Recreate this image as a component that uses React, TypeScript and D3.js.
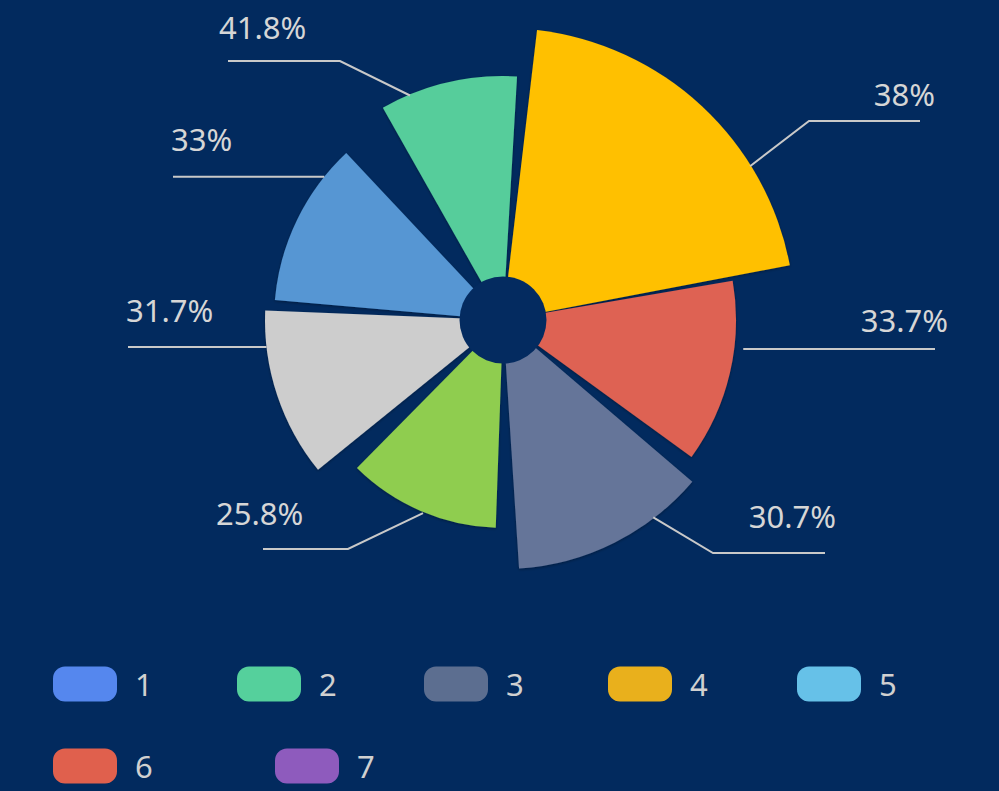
import React from "react";
import * as d3 from "d3";

// ---- data ----
const sliceNames = ["4", "6", "3", "lime", "gray", "blue", "2"];
const sliceValues = [38, 33.7, 30.7, 25.8, 31.7, 33, 41.8];
const sliceStartDeg = [6.7, 80.3, 130.5, 182, 231, 275, 330.5];
const sliceEndDeg = [79.2, 126, 176.3, 224.6, 272.3, 316.8, 363.3];
const sliceRadius = [292, 233, 249, 208, 238, 229, 244];
const sliceColors = ["#ffc000", "#de6252", "#657599", "#8fcd50", "#cdcdcd", "#5696d3", "#56cd9b"];

const legendNames = ["1", "2", "3", "4", "5", "6", "7"];
const legendColors = ["#5587ee", "#55d09c", "#5c6e90", "#e9b01c", "#66c1e8", "#e0604d", "#8e5bbd"];

// ---- layout (positions kept apart from data) ----
const W = 999;
const H = 791;
const CX = 503;
const CY = 320;
const HOLE = 43.5;
const BG = "#022a5e";

type LabelLayout = {
  angle: number;
  rOff: number;
  elbow: [number, number] | null;
  endX: number;
  textX: number;
  textDy: number;
  anchor: "start" | "end";
};
const labelLayout: LabelLayout[] = [
  { angle: 58.1, rOff: -1, elbow: [809, 121], endX: 920, textX: 935, textDy: 15, anchor: "end" },
  { angle: 96.9, rOff: 9, elbow: null, endX: 935, textX: 948, textDy: 17, anchor: "end" },
  { angle: 142.7, rOff: -1, elbow: [713, 553], endX: 825, textX: 836, textDy: 25, anchor: "end" },
  { angle: 202.5, rOff: 1, elbow: [348, 549], endX: 263, textX: 216, textDy: 24, anchor: "start" },
  { angle: 263.5, rOff: 0, elbow: null, endX: 128, textX: 126, textDy: 25, anchor: "start" },
  { angle: 308.7, rOff: 0, elbow: null, endX: 173, textX: 171, textDy: 26, anchor: "start" },
  { angle: 337.5, rOff: -1, elbow: [340, 61], endX: 228, textX: 219, textDy: 22, anchor: "start" },
];

const legendX = [53, 237, 424, 608, 797, 53, 275];
const legendRowY = [684, 766];
const legendRow = [0, 0, 0, 0, 0, 1, 1];

export default function App() {
  const angle = d3.scaleLinear().domain([0, 360]).range([0, 2 * Math.PI]);
  const radius = d3.scaleLinear().domain([0, 300]).range([0, 300]);
  const arc = d3.arc<any>();

  const slices = sliceValues.map((v, i) => ({
    value: v,
    name: sliceNames[i],
    color: sliceColors[i],
    path: arc({
      innerRadius: 0,
      outerRadius: radius(sliceRadius[i]),
      startAngle: angle(sliceStartDeg[i]),
      endAngle: angle(sliceEndDeg[i]),
    }) as string,
  }));

  const fmt = (v: number) => `${v}%`;
  const font = "'Noto Sans', 'Open Sans', sans-serif";

  return (
    <svg
      width={W}
      height={H}
      style={{ position: "absolute", left: 0, top: 0, display: "block" }}
    >
      <defs>
        <filter id="sh" x="-20%" y="-20%" width="140%" height="140%">
          <feDropShadow dx="0" dy="1" stdDeviation="1.5" floodColor="#000" floodOpacity="0.35" />
        </filter>
      </defs>
      <rect width={W} height={H} fill={BG} />
      <g transform={`translate(${CX},${CY})`}>
        {slices.map((s, i) => (
          <path key={i} d={s.path} fill={s.color} filter="url(#sh)" />
        ))}
        <circle r={HOLE} fill="#042b60" />
      </g>
      <g>
        {labelLayout.map((l, i) => {
          const a = angle(l.angle);
          const r = radius(sliceRadius[i] + l.rOff);
          const sx = CX + r * Math.sin(a);
          const sy = CY - r * Math.cos(a);
          const ey = l.elbow ? l.elbow[1] : sy;
          const pts: [number, number][] = [[sx, sy]];
          if (l.elbow) pts.push(l.elbow);
          pts.push([l.endX, ey]);
          const line = d3.line()(pts) as string;
          return (
            <g key={i}>
              <path d={line} fill="none" stroke="#c9c9c9" strokeWidth={2} />
              <text
                x={l.textX}
                y={ey - l.textDy}
                textAnchor={l.anchor}
                fill="#d6d6d6"
                fontSize={31}
                fontFamily={font}
              >
                {fmt(sliceValues[i])}
              </text>
            </g>
          );
        })}
      </g>
      <g>
        {legendNames.map((n, i) => {
          const y = legendRowY[legendRow[i]];
          return (
            <g key={n}>
              <rect
                x={legendX[i]}
                y={y - 17.5}
                width={64}
                height={35}
                rx={12}
                fill={legendColors[i]}
              />
              <text
                x={legendX[i] + 82}
                y={y + 12}
                fill="#d0d0d0"
                fontSize={31}
                fontFamily={font}
              >
                {n}
              </text>
            </g>
          );
        })}
      </g>
    </svg>
  );
}
